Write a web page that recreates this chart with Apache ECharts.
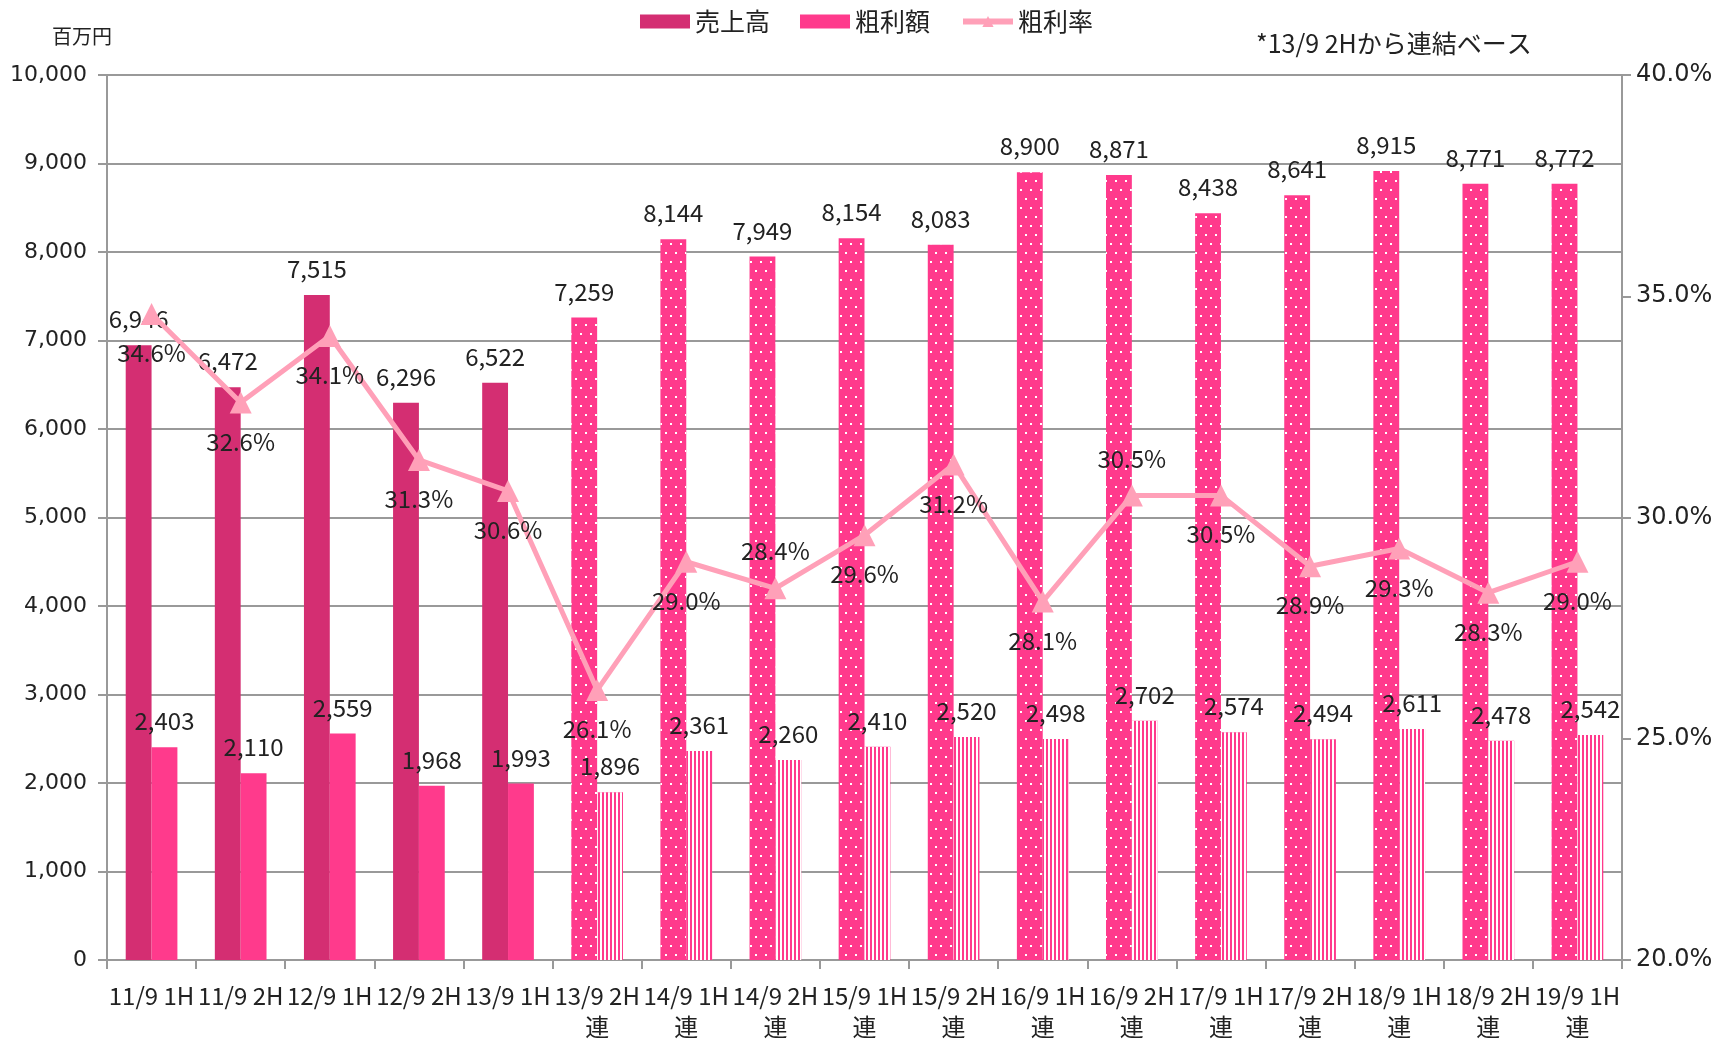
<!DOCTYPE html>
<html>
<head>
<meta charset="utf-8">
<script src="https://cdn.jsdelivr.net/npm/echarts@6/dist/echarts.min.js"></script>
<style>
  html, body { margin: 0; padding: 0; background: #fff; }
  #main { width: 1733px; height: 1042px; }
</style>
</head>
<body>
<div id="main"></div>
<script>
// 期間ラベル
const periods = ['11/9 1H', '11/9 2H', '12/9 1H', '12/9 2H', '13/9 1H',
  '13/9 2H\n連', '14/9 1H\n連', '14/9 2H\n連', '15/9 1H\n連', '15/9 2H\n連',
  '16/9 1H\n連', '16/9 2H\n連', '17/9 1H\n連', '17/9 2H\n連', '18/9 1H\n連',
  '18/9 2H\n連', '19/9 1H\n連'];
// 売上高 (百万円)
const sales = [6946, 6472, 7515, 6296, 6522, 7259, 8144, 7949, 8154, 8083,
  8900, 8871, 8438, 8641, 8915, 8771, 8772];
// 粗利額 (百万円)
const grossProfit = [2403, 2110, 2559, 1968, 1993, 1896, 2361, 2260, 2410, 2520,
  2498, 2702, 2574, 2494, 2611, 2478, 2542];
// 粗利率 (%)
const grossMargin = [34.6, 32.6, 34.1, 31.3, 30.6, 26.1, 29.0, 28.4, 29.6, 31.2,
  28.1, 30.5, 30.5, 28.9, 29.3, 28.3, 29.0];
// 粗利率ラベルを上に出す点
const marginLabelTop = [7, 11];
// 連結ベースの開始位置
const consolidatedFrom = 5;

const SALES = '#d42e72';
const GROSS = '#ff3a8c';
const RATE = '#ffa0b8';
const GRID = '#999999';
const txtFont = '"Noto Sans CJK JP", "Noto Sans", sans-serif';
const axisFont = '"DejaVu Sans", Verdana, sans-serif';

const chart = echarts.init(document.getElementById('main'), null, { renderer: 'canvas' });

const fmt = (v) => v.toLocaleString('en-US');

const salesData = sales.map((v, i) => {
  if (i < consolidatedFrom) return v;
  return {
    value: v,
    itemStyle: {
      color: GROSS,
      decal: {
        symbol: 'rect',
        symbolSize: 1,
        color: '#ffffff',
        dashArrayX: [[2, 8], [0, 5, 2, 3]],
        dashArrayY: [2, 7]
      }
    }
  };
});

const grossData = grossProfit.map((v, i) => {
  if (i < consolidatedFrom) return v;
  return {
    value: v,
    itemStyle: {
      color: GROSS,
      decal: {
        symbol: 'rect',
        symbolSize: 1,
        color: '#ffffff',
        dashArrayX: [2, 2],
        dashArrayY: [10, 0]
      }
    }
  };
});

const marginData = grossMargin.map((v, i) => {
  const top = marginLabelTop.indexOf(i) >= 0;
  return {
    value: v,
    label: { position: top ? 'top' : 'bottom', distance: top ? 14 : 16 }
  };
});

const option = {
  animation: false,
  backgroundColor: '#ffffff',
  legend: {
    top: 4,
    left: 'center',
    itemWidth: 50,
    itemHeight: 14,
    itemGap: 30,
    textStyle: { fontFamily: txtFont, fontSize: 25, color: '#222' },
    data: [
      { name: '売上高', icon: 'rect', itemStyle: { color: SALES } },
      { name: '粗利額', icon: 'rect', itemStyle: { color: GROSS } },
      { name: '粗利率', lineStyle: { color: RATE, width: 6 } }
    ]
  },
  graphic: [
    {
      type: 'text', left: 52, top: 26,
      style: { text: '百万円', fontFamily: txtFont, fontSize: 20, fill: '#222' }
    },
    {
      type: 'text', left: 1256, top: 31,
      style: { text: '*13/9 2Hから連結ベース', fontFamily: txtFont, fontSize: 25, fill: '#222' }
    }
  ],
  grid: { left: 107, right: 111, top: 75, bottom: 81 },
  xAxis: {
    type: 'category',
    data: periods,
    boundaryGap: true,
    axisLine: { lineStyle: { color: GRID, width: 2 } },
    axisTick: { show: true, length: 9, lineStyle: { color: GRID, width: 2 } },
    axisLabel: {
      interval: 0, margin: 20,
      fontFamily: txtFont, fontSize: 24, color: '#222', lineHeight: 31
    }
  },
  yAxis: [
    {
      type: 'value', min: 0, max: 10000, interval: 1000,
      axisLine: { show: true, lineStyle: { color: GRID, width: 2 } },
      axisTick: { show: true, length: 9, lineStyle: { color: GRID, width: 2 } },
      splitLine: { lineStyle: { color: GRID, width: 2 } },
      axisLabel: { margin: 20, fontFamily: axisFont, fontSize: 22, color: '#222', formatter: fmt }
    },
    {
      type: 'value', min: 20, max: 40, interval: 5,
      axisLine: { show: true, lineStyle: { color: GRID, width: 2 } },
      axisTick: { show: true, length: 9, lineStyle: { color: GRID, width: 2 } },
      splitLine: { show: false },
      axisLabel: {
        margin: 14, fontFamily: axisFont, fontSize: 24, color: '#222',
        formatter: (v) => v.toFixed(1) + '%'
      }
    }
  ],
  series: [
    {
      name: '売上高', type: 'bar', data: salesData,
      barGap: '0%', barCategoryGap: '42%',
      itemStyle: { color: SALES },
      label: {
        show: true, position: 'top', distance: 14,
        fontFamily: txtFont, fontSize: 24, color: '#222',
        formatter: (p) => fmt(p.value)
      },
      z: 2
    },
    {
      name: '粗利額', type: 'bar', data: grossData,
      itemStyle: { color: GROSS },
      label: {
        show: true, position: 'top', distance: 14,
        fontFamily: txtFont, fontSize: 24, color: '#222',
        formatter: (p) => fmt(p.value)
      },
      z: 2
    },
    {
      name: '粗利率', type: 'line', yAxisIndex: 1, data: marginData,
      symbol: 'triangle', symbolSize: 22,
      lineStyle: { color: RATE, width: 5 },
      itemStyle: { color: RATE },
      label: {
        show: true,
        fontFamily: txtFont, fontSize: 24, color: '#222',
        formatter: (p) => p.value.toFixed(1) + '%'
      },
      z: 5
    }
  ]
};

chart.setOption(option);
</script>
</body>
</html>
